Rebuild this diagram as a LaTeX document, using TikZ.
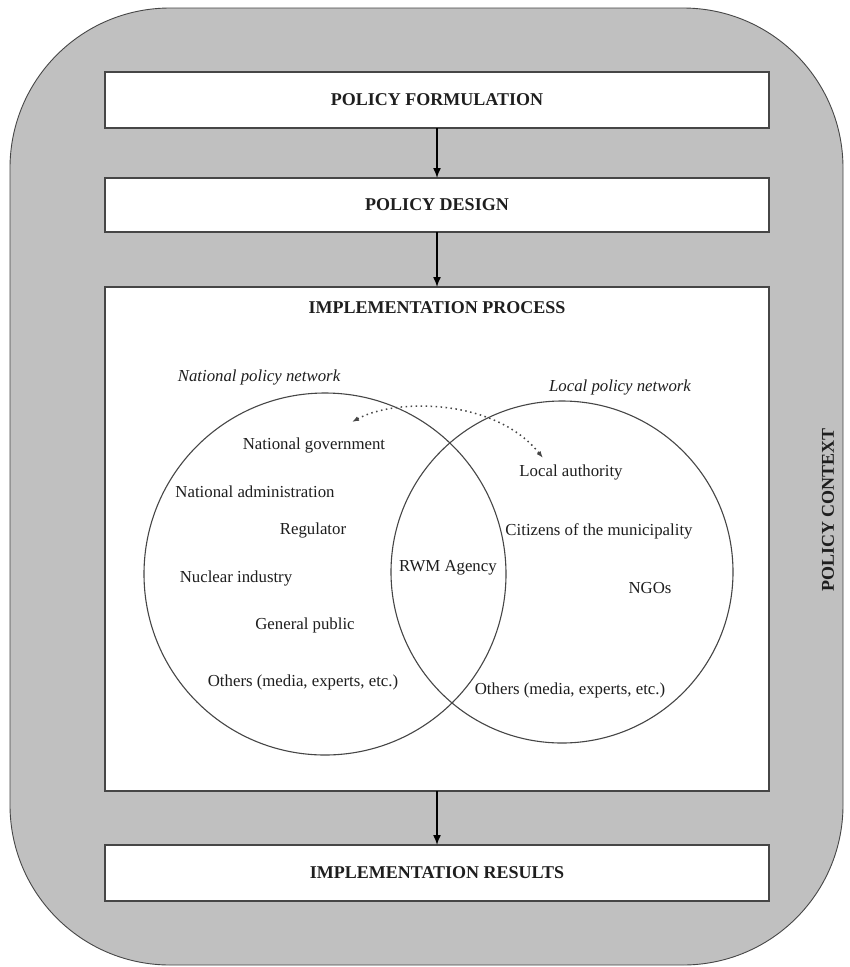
\documentclass[tikz,border=0pt]{standalone}
\usepackage{fontspec}
\setmainfont{Liberation Serif}
\usetikzlibrary{arrows.meta, positioning}

\definecolor{contextgray}{RGB}{192,192,192}
\definecolor{linegray}{RGB}{70,70,70}
\definecolor{textgray}{RGB}{30,30,30}

\begin{document}
\begin{tikzpicture}[x=1pt, y=-1pt, >={Latex[length=10pt,width=8pt]}, node distance=50pt]
        \tikzstyle{stage}=[draw=linegray, line width=1.3pt, fill=white, outer sep=0pt,
          minimum width=664pt, minimum height=56pt, text=textgray,
          font=\fontsize{18}{20}\selectfont\bfseries]
        \tikzstyle{actor}=[inner sep=0pt, text=textgray, font=\fontsize{16.8}{19}\selectfont]
        \tikzstyle{network}=[inner sep=0pt, text=textgray, font=\fontsize{16.8}{19}\selectfont\itshape]
        \tikzstyle{ring}=[circle, draw=linegray, line width=1.1pt, inner sep=0pt]
        \tikzstyle{flow}=[->, draw=black, line width=1.5pt]

        % Policy context
        \fill[white] (0,0) rectangle (850,967);
        \draw[draw=linegray, line width=0.9pt, fill=contextgray, rounded corners=160pt]
          (10,8) rectangle (843,965);
        \node[rotate=90, text=textgray, font=\fontsize{18}{20}\selectfont\bfseries]
          (context) at (828,510) {POLICY CONTEXT};

        % Stages
        \node[stage] (formul) at (437,100) {POLICY FORMULATION};
        \node[stage, minimum height=54pt, below=of formul] (design) {POLICY DESIGN};
        \node[stage, minimum height=504pt, below=55pt of design] (impl) {};
        \node[stage, below=54pt of impl] (results) {IMPLEMENTATION RESULTS};
        \node[text=textgray, font=\fontsize{18}{20}\selectfont\bfseries]
          (impltitle) at ([yshift=-21pt]impl.north) {IMPLEMENTATION PROCESS};

        % Networks
        \node[ring, minimum size=362pt] (natnet) at (325,574) {};
        \node[ring, minimum size=342pt] (locnet) at (562,572) {};
        \node[network] (natlabel) at (259,377) {National policy network};
        \node[network] (loclabel) at (620,387) {Local policy network};

        % Actors
        \node[actor] (natgov) at (314,445) {National government};
        \node[actor] (natadmin) at (255,492) {National administration};
        \node[actor] (regul) at (313,530) {Regulator};
        \node[actor] (nuclear) at (236,578) {Nuclear industry};
        \node[actor] (public) at (305,625) {General public};
        \node[actor] (natothers) at (303,682) {Others (media, experts, etc.)};
        \node[actor] (agency) at (448,568) {RWM Agency};
        \node[actor] (locauth) at (571,472) {Local authority};
        \node[actor] (citizens) at (599,531) {Citizens of the municipality};
        \node[actor] (ngos) at (650,588) {NGOs};
        \node[actor] (locothers) at (570,690) {Others (media, experts, etc.)};

        % Edges
        \draw[flow] (formul) -- (design);
        \draw[flow] (design) -- (impl);
        \draw[flow] (impl) -- (results);

        % link between the two governments
        \coordinate (govtip) at ([xshift=38pt, yshift=23pt]natgov.center);
        \coordinate (authtip) at ([xshift=-28pt, yshift=14pt]locauth.center);
        \draw[{Latex[length=7pt,width=5pt]}-{Latex[length=7pt,width=5pt]}, line width=1.5pt,
          dash pattern=on 1.5pt off 3.5pt, draw=linegray]
          (govtip) .. controls (395,398) and (495,398) .. (authtip);

      \end{tikzpicture}
\end{document}
